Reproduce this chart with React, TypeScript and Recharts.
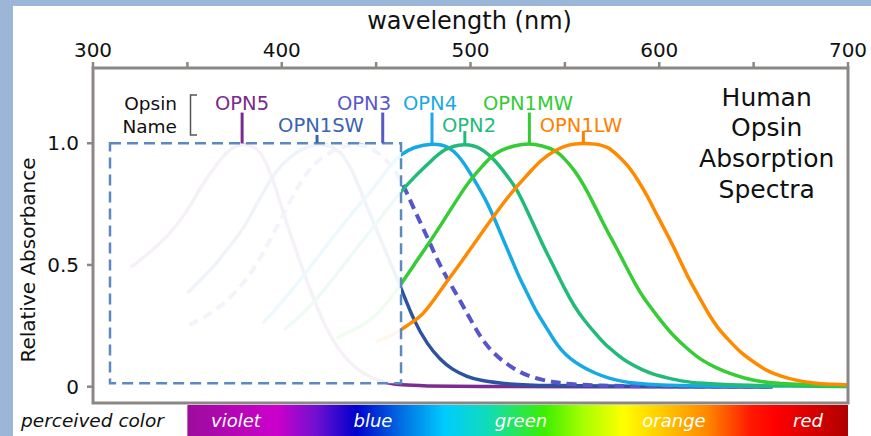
import React from 'react';
import { LineChart, Line, XAxis, YAxis, ReferenceArea, ReferenceLine } from 'recharts';

// ---------- data ----------
const X_TICKS = [300, 350, 400, 450, 500, 550, 600, 650, 700];
const X_LABELED = [300, 400, 500, 600, 700];
const Y_TICKS = [0, 0.5, 1.0];
const Y_TICK_LABELS: Record<string, string> = { '0': '0', '0.5': '0.5', '1': '1.0' };

const OPN5_WL = [320, 330, 340, 350, 357, 365, 372, 379, 386, 390, 395, 401, 407, 413, 418, 424, 430, 436, 443, 450, 457, 463, 475, 500, 560, 660];
const OPN5_ABS = [0.49, 0.55, 0.62, 0.72, 0.82, 0.91, 0.975, 1.0, 0.985, 0.95, 0.86, 0.71, 0.57, 0.44, 0.34, 0.23, 0.155, 0.096, 0.055, 0.028, 0.014, 0.007, 0.003, 0.001, 0, 0];

const OPN1SW_WL = [350, 357, 365, 372, 380, 388, 397, 404, 410, 419, 429, 436, 445, 454, 463, 470, 477, 484, 490, 498, 505, 520, 540, 580, 660];
const OPN1SW_ABS = [0.384, 0.44, 0.5, 0.575, 0.65, 0.77, 0.89, 0.94, 0.975, 1.0, 0.985, 0.92, 0.74, 0.575, 0.41, 0.27, 0.175, 0.11, 0.072, 0.041, 0.025, 0.01, 0.004, 0.001, 0];

const OPN3_WL = [351, 358, 365, 372, 378, 383, 389, 395, 401, 407, 413, 419, 426, 433, 441, 450, 457, 463, 470, 478, 483, 488, 494, 499, 504, 509, 516, 524, 530, 538, 545, 552, 566, 600, 660];
const OPN3_ABS = [0.253, 0.28, 0.315, 0.36, 0.41, 0.46, 0.53, 0.62, 0.71, 0.8, 0.877, 0.93, 0.965, 0.99, 1.0, 0.97, 0.92, 0.855, 0.73, 0.6, 0.51, 0.44, 0.36, 0.29, 0.22, 0.164, 0.11, 0.069, 0.045, 0.028, 0.017, 0.011, 0.004, 0.001, 0];

const OPN4_WL = [390, 397, 404, 411, 418, 425, 433, 439, 445, 451, 457, 463, 470, 480, 488, 495, 502, 508, 513, 517, 522, 526, 531, 535, 540, 544, 548, 553, 559, 566, 573, 580, 587, 600, 620, 660];
const OPN4_ABS = [0.26, 0.32, 0.384, 0.45, 0.52, 0.595, 0.67, 0.73, 0.78, 0.84, 0.905, 0.955, 0.985, 1.0, 0.99, 0.94, 0.85, 0.77, 0.685, 0.61, 0.52, 0.445, 0.37, 0.305, 0.246, 0.193, 0.15, 0.113, 0.082, 0.055, 0.035, 0.022, 0.014, 0.006, 0.002, 0];

const OPN2_WL = [401, 410, 418, 427, 436, 443, 450, 457, 463, 470, 478, 486, 497, 505, 513, 518, 524, 529, 534, 539, 545, 550, 555, 560, 566, 571, 577, 583, 591, 597, 605, 612, 622, 640, 670, 700];
const OPN2_ABS = [0.233, 0.29, 0.356, 0.44, 0.534, 0.6, 0.67, 0.74, 0.8, 0.86, 0.918, 0.98, 1.0, 0.985, 0.93, 0.88, 0.82, 0.74, 0.657, 0.57, 0.48, 0.4, 0.33, 0.275, 0.22, 0.175, 0.137, 0.1, 0.069, 0.05, 0.035, 0.022, 0.014, 0.006, 0.002, 0.001];

const OPN1MW_WL = [429, 437, 445, 451, 457, 463, 470, 478, 486, 495, 500, 506, 511, 516, 523, 531, 538, 545, 550, 555, 560, 566, 571, 577, 582, 587, 592, 598, 603, 608, 615, 622, 630, 637, 645, 654, 663, 672, 685, 700];
const OPN1MW_ABS = [0.2, 0.23, 0.26, 0.3, 0.356, 0.418, 0.5, 0.589, 0.685, 0.795, 0.85, 0.904, 0.945, 0.972, 0.99, 1.0, 0.99, 0.972, 0.935, 0.89, 0.83, 0.74, 0.66, 0.575, 0.5, 0.425, 0.36, 0.3, 0.25, 0.205, 0.155, 0.11, 0.078, 0.055, 0.035, 0.02, 0.013, 0.01, 0.006, 0.004];

const OPN1LW_WL = [450, 457, 463, 468, 474, 481, 488, 495, 502, 509, 516, 523, 531, 537, 545, 552, 559, 566, 573, 578, 584, 589, 594, 599, 605, 610, 615, 621, 626, 631, 637, 643, 651, 657, 665, 673, 682, 690, 700];
const OPN1LW_ABS = [0.185, 0.205, 0.233, 0.26, 0.288, 0.36, 0.438, 0.51, 0.589, 0.665, 0.74, 0.81, 0.877, 0.93, 0.972, 0.995, 1.0, 0.998, 0.986, 0.95, 0.904, 0.845, 0.78, 0.7, 0.616, 0.535, 0.452, 0.37, 0.3, 0.24, 0.19, 0.14, 0.096, 0.065, 0.041, 0.025, 0.014, 0.01, 0.007];

// peak marker wavelengths and marker tops
const PEAK_NAMES = ['OPN5', 'OPN1SW', 'OPN3', 'OPN4', 'OPN2', 'OPN1MW', 'OPN1LW'];
const PEAK_WL = [379, 418.7, 453.5, 479.6, 497, 531.2, 559.8];
const PEAK_TOP = [1.126, 1.034, 1.126, 1.126, 1.05, 1.126, 1.05];

// perceived color bar
const COLOR_BAR_RANGE = [350, 700];
const COLOR_NAMES = ['violet', 'blue', 'green', 'orange', 'red'];

// ---------- styles ----------
const FONT = '"DejaVu Sans", "Liberation Sans", sans-serif';
const FRAME = '#8b8784';
const Y_MIN = -0.067;
const Y_MAX = 1.309;

const zip = (wl: number[], ab: number[]) => wl.map((w, i) => ({ wl: w, v: ab[i] }));

const SERIES = [
  { name: 'OPN5', data: zip(OPN5_WL, OPN5_ABS), color: '#7c2b90', dash: undefined },
  { name: 'OPN1SW', data: zip(OPN1SW_WL, OPN1SW_ABS), color: '#2c52a0', dash: undefined },
  { name: 'OPN3', data: zip(OPN3_WL, OPN3_ABS), color: '#5555cc', dash: '10 6' },
  { name: 'OPN4', data: zip(OPN4_WL, OPN4_ABS), color: '#17a9e3', dash: undefined },
  { name: 'OPN2', data: zip(OPN2_WL, OPN2_ABS), color: '#22ba78', dash: undefined },
  { name: 'OPN1MW', data: zip(OPN1MW_WL, OPN1MW_ABS), color: '#35cc35', dash: undefined },
  { name: 'OPN1LW', data: zip(OPN1LW_WL, OPN1LW_ABS), color: '#ff8a00', dash: undefined },
];

const LABEL_COLORS: Record<string, string> = {
  OPN5: '#7a2a8e', OPN1SW: '#3a64b0', OPN3: '#5858cb', OPN4: '#1aa8e6', OPN2: '#22bb77', OPN1MW: '#33cc33', OPN1LW: '#ff8000',
};
// label anchor (center x, baseline y)
const LABEL_POS: Record<string, [number, number]> = {
  OPN5: [242, 110], OPN1SW: [321, 132], OPN3: [364, 110], OPN4: [430, 110], OPN2: [469, 132], OPN1MW: [528, 110], OPN1LW: [581, 132],
};
const COLOR_LABEL_X = [236, 373, 521, 674, 808];

const SPECTRUM_STOPS: [number, string][] = [
  [0, '#9c0c9c'], [0.136, '#cc00cc'], [0.195, '#7010d0'], [0.255, '#0000cc'], [0.32, '#0068e0'],
  [0.39, '#00ccff'], [0.455, '#10dcb8'], [0.54, '#3cee00'], [0.6, '#a8ff00'], [0.66, '#ffff00'],
  [0.72, '#ffc800'], [0.787, '#ff8800'], [0.853, '#ff1800'], [0.89, '#ff0000'], [1, '#b00000'],
];

const TopTick = (props: any) => {
  const { x, y, payload } = props;
  const v = payload.value;
  if (!X_LABELED.includes(v)) return null;
  return (
    <text x={x} y={y} textAnchor="middle" fontSize={20} fill="#111" fontFamily={FONT}>{String(v)}</text>
  );
};

const LeftTick = (props: any) => {
  const { x, y, payload } = props;
  return (
    <text x={x} y={y} dy="0.36em" textAnchor="end" fontSize={20} fill="#111" fontFamily={FONT}>
      {Y_TICK_LABELS[String(payload.value)]}
    </text>
  );
};

export default function App() {
  return (
    <div style={{ position: 'absolute', left: 0, top: 0, width: 871, height: 436, background: '#fff', fontFamily: FONT, overflow: 'hidden' }}>
      <div style={{ position: 'absolute', left: 0, top: 0, width: 13, height: 436, background: '#9bb6d7' }} />
      <div style={{ position: 'absolute', left: 0, top: 0, width: 871, height: 6, background: '#9bb6d7' }} />
      <div style={{ position: 'absolute', left: 0, top: 0 }}>
        <LineChart width={871} height={436} margin={{ top: 38, right: 23, bottom: 33, left: 53 }}>
          <defs>
            <linearGradient id="spectrum" x1="0" y1="0" x2="1" y2="0">
              {SPECTRUM_STOPS.map(([o, c]) => (
                <stop key={o} offset={o} stopColor={c} />
              ))}
            </linearGradient>
          </defs>
          <XAxis
            dataKey="wl"
            type="number"
            orientation="top"
            domain={[300, 700]}
            allowDataOverflow
            ticks={X_TICKS}
            interval={0}
            height={30}
            axisLine={false}
            tickLine={{ stroke: FRAME, strokeWidth: 2.5 }}
            tickSize={6}
            tickMargin={5}
            tick={<TopTick />}
          />
          <YAxis
            type="number"
            domain={[Y_MIN, Y_MAX]}
            allowDataOverflow
            ticks={Y_TICKS}
            interval={0}
            width={40}
            axisLine={false}
            tickLine={{ stroke: FRAME, strokeWidth: 2.5 }}
            tickSize={6}
            tickMargin={8}
            tick={<LeftTick />}
          />
          {SERIES.map((s) => (
            <Line
              key={s.name}
              data={s.data}
              dataKey="v"
              name={s.name}
              type="basis"
              stroke={s.color}
              strokeWidth={s.dash ? 4 : 3.5}
              strokeDasharray={s.dash}
              dot={false}
              activeDot={false}
              isAnimationActive={false}
            />
          ))}
          <ReferenceArea
            x1={309}
            x2={463.2}
            y1={0.014}
            y2={1.0}
            fill="#ffffff"
            fillOpacity={0.93}
            stroke="#5b8ac0"
            strokeWidth={2.5}
            strokeDasharray="11 6"
            ifOverflow="visible"
            zIndex={450}
          />
          {PEAK_NAMES.map((n, i) => (
            <ReferenceLine
              key={n}
              segment={[{ x: PEAK_WL[i], y: 1.0 }, { x: PEAK_WL[i], y: PEAK_TOP[i] }]}
              stroke={LABEL_COLORS[n]}
              strokeWidth={3}
              ifOverflow="visible"
              zIndex={460}
            />
          ))}
          <ReferenceArea
            x1={300}
            x2={700}
            y1={Y_MIN}
            y2={Y_MAX}
            fill="none"
            stroke={FRAME}
            strokeWidth={3}
            ifOverflow="visible"
            zIndex={470}
          />
          <ReferenceArea
            x1={COLOR_BAR_RANGE[0]}
            x2={COLOR_BAR_RANGE[1]}
            y1={-0.075}
            y2={-0.215}
            fill="url(#spectrum)"
            fillOpacity={1}
            stroke="none"
            ifOverflow="visible"
          />
          {/* annotations */}
          <text x={469.5} y={29} textAnchor="middle" fontSize={24} fill="#111" fontFamily={FONT}>wavelength (nm)</text>
          <text x={35} y={260} textAnchor="middle" fontSize={20} fill="#111" fontFamily={FONT} transform="rotate(-90 35 260)">Relative Absorbance</text>
          <text x={177} y={110} textAnchor="end" fontSize={18.5} fill="#111" fontFamily={FONT}>Opsin</text>
          <text x={177} y={133} textAnchor="end" fontSize={18.5} fill="#111" fontFamily={FONT}>Name</text>
          <path d="M197 95 H190.5 V135 H197" stroke="#555" strokeWidth={1.5} fill="none" />
          {PEAK_NAMES.map((n) => (
            <text key={n} x={LABEL_POS[n][0]} y={LABEL_POS[n][1]} textAnchor="middle" fontSize={19.5} fill={LABEL_COLORS[n]} fontFamily={FONT}>{n}</text>
          ))}
          {['Human', 'Opsin', 'Absorption', 'Spectra'].map((t, i) => (
            <text key={t} x={766.7} y={105.5 + i * 30.8} textAnchor="middle" fontSize={25} fill="#111" fontFamily={FONT}>{t}</text>
          ))}
          <text x={21} y={427} fontSize={18.5} fontStyle="italic" fill="#111" fontFamily={FONT}>perceived color</text>
        </LineChart>
      </div>
      <svg width={871} height={436} style={{ position: 'absolute', left: 0, top: 0, pointerEvents: 'none' }}>
        {COLOR_NAMES.map((c, i) => (
          <text key={c} x={COLOR_LABEL_X[i]} y={427} textAnchor="middle" fontSize={18} fontStyle="italic" fill="#fff" fontFamily={FONT}>{c}</text>
        ))}
      </svg>
    </div>
  );
}
